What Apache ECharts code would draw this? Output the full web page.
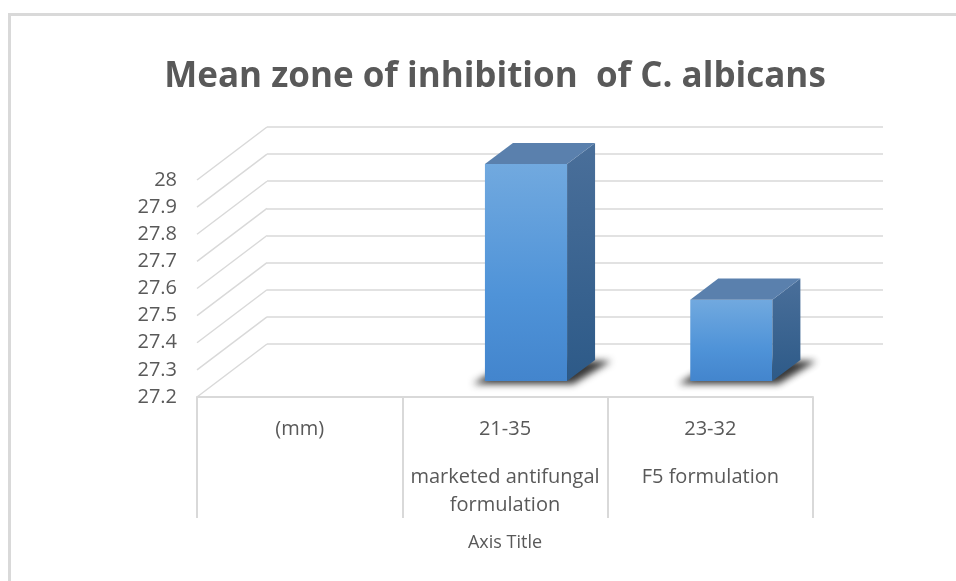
<!DOCTYPE html>
<html>
<head>
<meta charset="utf-8">
<title>Mean zone of inhibition of C. albicans</title>
<script src="https://cdn.jsdelivr.net/npm/echarts@6/dist/echarts.min.js"></script>
<style>
  html, body { margin: 0; padding: 0; background: #ffffff; }
  #frame { position: absolute; left: 8px; top: 13px; width: 960px; height: 580px;
           border-left: 3px solid #d9d9d9; border-top: 3px solid #d9d9d9; box-sizing: border-box; }
  #chart { position: absolute; left: 0; top: 0; width: 956px; height: 581px; }
</style>
</head>
<body>
<div id="frame"></div>
<div id="chart"></div>
<script>
// Category levels (upper and lower row of the axis table)
const rangeLabels = ['(mm)', '21-35', '23-32'];
const formulationLabels = ['', 'marketed antifungal\nformulation', 'F5 formulation'];
// Mean zone of inhibition per category (mm)
const meanZone = [null, 28, 27.5];
// Value axis ticks
const yTicks = [27.2, 27.3, 27.4, 27.5, 27.6, 27.7, 27.8, 27.9, 28];

const Y_MIN = 27.2, Y_MAX = 28, Y_STEP = 0.1;
// Oblique projection of the floor depth
const DEPTH_X = 70, DEPTH_Y = -53;
const GRID_COLOR = '#d9d9d9';
const TEXT_COLOR = '#595959';
const FONT = "'Open Sans', sans-serif";
// Far offset used to draw only the blurred shadow of a shape
const SHADOW_SHIFT = 3000;

const chart = echarts.init(document.getElementById('chart'), null, { renderer: 'canvas' });

// Side-wall lines joining the front value scale to the back wall
function renderSideLines(params, api) {
  const v = api.value(1);
  const p = api.coord([0, v]);
  const band = api.size([1, 0])[0];
  const x = p[0] - band / 2;
  return {
    type: 'line',
    shape: { x1: x, y1: p[1], x2: x + DEPTH_X, y2: p[1] + DEPTH_Y },
    style: { stroke: GRID_COLOR, lineWidth: 1.5 },
    silent: true
  };
}

// 3D column: soft floor shadow, front face, side face, top face
function renderColumn(params, api) {
  const v = api.value(1);
  if (v == null || isNaN(v)) return null;
  const idx = api.value(0);
  const top = api.coord([idx, v]);
  const base = api.coord([idx, Y_MIN]);
  const band = api.size([1, 0])[0];
  const w = band * 0.4;
  const f = 0.3, d = 0.4;
  const sx = DEPTH_X * f, sy = DEPTH_Y * f;
  const ddx = DEPTH_X * d, ddy = DEPTH_Y * d;
  const x0 = top[0] - w / 2 + sx, x1 = x0 + w;
  const yt = top[1] + sy, yb = base[1] + sy;

  const footprint = [
    [x0 - 12, yb + 3], [x1 + 6, yb + 3],
    [x1 + ddx + 16, yb + ddy + 1], [x0 + ddx, yb + ddy]
  ].map((p) => [p[0] + SHADOW_SHIFT, p[1]]);

  return {
    type: 'group',
    children: [
      {
        type: 'polygon',
        shape: { points: footprint },
        style: { fill: '#000', shadowBlur: 7, shadowColor: 'rgba(20,20,20,0.85)', shadowOffsetX: -SHADOW_SHIFT },
        silent: true
      },
      {
        type: 'polygon',
        shape: { points: [[x0, yt], [x1, yt], [x1, yb], [x0, yb]] },
        style: { fill: new echarts.graphic.LinearGradient(0, 0, 0, 1, [
          { offset: 0, color: '#71a9df' },
          { offset: 0.6, color: '#4f93d8' },
          { offset: 1, color: '#4385cd' }
        ]) }
      },
      {
        type: 'polygon',
        shape: { points: [[x1, yt], [x1 + ddx, yt + ddy], [x1 + ddx, yb + ddy], [x1, yb]] },
        style: { fill: new echarts.graphic.LinearGradient(0, 0, 0, 1, [
          { offset: 0, color: '#4a6f9a' },
          { offset: 1, color: '#2d5a88' }
        ]) }
      },
      {
        type: 'polygon',
        shape: { points: [[x0, yt], [x1, yt], [x1 + ddx, yt + ddy], [x0 + ddx, yt + ddy]] },
        style: { fill: '#5a80ad' }
      }
    ]
  };
}

const option = {
  backgroundColor: 'transparent',
  animation: false,
  title: {
    text: 'Mean zone of inhibition  of C. albicans',
    left: 490, top: 55, textAlign: 'center',
    textStyle: { fontFamily: FONT, fontSize: 35, fontWeight: 'bold', color: TEXT_COLOR }
  },
  grid: [
    // front plane
    { left: 197, right: 143, top: 180, bottom: 184 },
    // back wall
    { left: 197 + DEPTH_X, right: 143 - DEPTH_X, top: 180 + DEPTH_Y, bottom: 184 - DEPTH_Y }
  ],
  xAxis: [
    {
      type: 'category', gridIndex: 0, data: rangeLabels,
      axisLine: { show: true, lineStyle: { color: GRID_COLOR, width: 2 } },
      axisTick: { show: true, interval: 0, length: 121, lineStyle: { color: GRID_COLOR, width: 2 } },
      axisLabel: { interval: 0, margin: 22, color: TEXT_COLOR, fontFamily: FONT, fontSize: 20 },
      splitLine: { show: false }
    },
    {
      type: 'category', gridIndex: 0, position: 'bottom', data: formulationLabels,
      axisLine: { show: false }, axisTick: { show: false },
      axisLabel: { interval: 0, margin: 66, color: TEXT_COLOR, fontFamily: FONT, fontSize: 20, lineHeight: 28 },
      name: 'Axis Title', nameLocation: 'middle', nameGap: 137,
      nameTextStyle: { color: TEXT_COLOR, fontFamily: FONT, fontSize: 18 }
    },
    { type: 'category', gridIndex: 1, data: rangeLabels, show: false }
  ],
  yAxis: [
    {
      type: 'value', gridIndex: 0, min: Y_MIN, max: Y_MAX, interval: Y_STEP,
      axisLine: { show: false }, axisTick: { show: false }, splitLine: { show: false },
      axisLabel: { margin: 20, color: TEXT_COLOR, fontFamily: FONT, fontSize: 20,
        formatter: (v) => String(Math.round(v * 10) / 10) }
    },
    {
      type: 'value', gridIndex: 1, min: Y_MIN, max: Y_MAX, interval: Y_STEP,
      axisLine: { show: false }, axisTick: { show: false }, axisLabel: { show: false },
      splitLine: { show: true, lineStyle: { color: GRID_COLOR, width: 1.5 } }
    }
  ],
  series: [
    {
      type: 'custom', name: 'side wall', xAxisIndex: 0, yAxisIndex: 0, z: 1,
      renderItem: renderSideLines,
      data: yTicks.map((t) => [0, t]),
      silent: true
    },
    {
      type: 'custom', name: 'Mean zone (mm)', xAxisIndex: 0, yAxisIndex: 0, z: 3,
      renderItem: renderColumn,
      data: meanZone.map((v, i) => [i, v]),
      clip: false
    }
  ]
};

chart.setOption(option);
</script>
</body>
</html>
